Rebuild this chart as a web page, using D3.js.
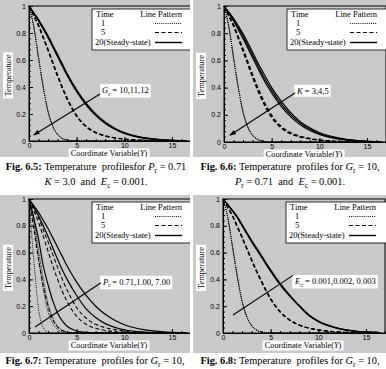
<!DOCTYPE html>
<html>
<head>
<meta charset="utf-8">
<title>Temperature profiles</title>
<script src="https://d3js.org/d3.v7.min.js"></script>
<style>
  body { margin: 0; background: #fff; }
  text { white-space: pre; }
</style>
</head>
<body>
<script>
// shared abscissa (Coordinate Variable Y)
var xGrid = [0, 0.5, 1, 1.5, 2, 2.5, 3, 3.5, 4, 5, 6, 7, 8, 9, 10, 12, 14, 16.5];

var xTicks = [0, 5, 10, 15];
var xTickLabels = ["0", "5", "10", "15"];
var yTicks = [0, 0.2, 0.4, 0.6, 0.8, 1];
var yTickLabels = ["0", "0.2", "0.4", "0.6", "0.8", "1"];
var timeLabels = ["1", "5", "20(Steady-state)"];

// Fig 6.5 : Gr = 10, 11, 12
var gr10_t1 = [1, 0.85, 0.62, 0.40, 0.22, 0.11, 0.05, 0.02, 0.007, 0.001, 0, 0, 0, 0, 0, 0, 0, 0];
var gr11_t1 = [1, 0.848, 0.617, 0.397, 0.218, 0.108, 0.049, 0.019, 0.007, 0.001, 0, 0, 0, 0, 0, 0, 0, 0];
var gr12_t1 = [1, 0.846, 0.614, 0.394, 0.216, 0.107, 0.048, 0.019, 0.006, 0.001, 0, 0, 0, 0, 0, 0, 0, 0];
var gr10_t5 = [1, 0.93, 0.86, 0.77, 0.68, 0.585, 0.49, 0.40, 0.32, 0.19, 0.11, 0.065, 0.04, 0.025, 0.015, 0.005, 0.001, 0];
var gr11_t5 = [1, 0.928, 0.856, 0.765, 0.674, 0.578, 0.483, 0.394, 0.314, 0.186, 0.107, 0.062, 0.038, 0.023, 0.014, 0.004, 0.001, 0];
var gr12_t5 = [1, 0.926, 0.852, 0.76, 0.668, 0.572, 0.477, 0.388, 0.308, 0.182, 0.104, 0.06, 0.036, 0.022, 0.013, 0.004, 0.001, 0];
var gr10_t20 = [1, 0.95, 0.90, 0.84, 0.78, 0.71, 0.64, 0.57, 0.50, 0.38, 0.28, 0.20, 0.14, 0.095, 0.062, 0.025, 0.009, 0.002];
var gr11_t20 = [1, 0.948, 0.895, 0.834, 0.772, 0.702, 0.632, 0.562, 0.492, 0.372, 0.273, 0.194, 0.135, 0.091, 0.059, 0.023, 0.008, 0.002];
var gr12_t20 = [1, 0.946, 0.89, 0.828, 0.765, 0.695, 0.624, 0.554, 0.485, 0.365, 0.266, 0.188, 0.130, 0.087, 0.056, 0.021, 0.007, 0.002];

// Fig 6.6 : K = 3, 4, 5
var k3_t1 = [1, 0.852, 0.624, 0.404, 0.224, 0.113, 0.052, 0.021, 0.008, 0.001, 0, 0, 0, 0, 0, 0, 0, 0];
var k4_t1 = [1, 0.85, 0.62, 0.40, 0.22, 0.11, 0.05, 0.02, 0.007, 0.001, 0, 0, 0, 0, 0, 0, 0, 0];
var k5_t1 = [1, 0.848, 0.616, 0.396, 0.217, 0.108, 0.048, 0.019, 0.006, 0.001, 0, 0, 0, 0, 0, 0, 0, 0];
var k3_t5 = [1, 0.932, 0.864, 0.776, 0.688, 0.594, 0.5, 0.41, 0.33, 0.198, 0.116, 0.069, 0.043, 0.027, 0.016, 0.005, 0.001, 0];
var k4_t5 = [1, 0.928, 0.856, 0.766, 0.675, 0.58, 0.485, 0.395, 0.316, 0.187, 0.108, 0.063, 0.039, 0.024, 0.014, 0.004, 0.001, 0];
var k5_t5 = [1, 0.925, 0.85, 0.757, 0.664, 0.568, 0.473, 0.384, 0.305, 0.179, 0.102, 0.059, 0.036, 0.022, 0.013, 0.004, 0.001, 0];
var k3_t20 = [1, 0.955, 0.91, 0.855, 0.795, 0.73, 0.66, 0.59, 0.525, 0.40, 0.30, 0.215, 0.15, 0.105, 0.07, 0.03, 0.011, 0.003];
var k4_t20 = [1, 0.95, 0.90, 0.84, 0.78, 0.71, 0.64, 0.57, 0.50, 0.38, 0.28, 0.20, 0.14, 0.095, 0.062, 0.025, 0.009, 0.002];
var k5_t20 = [1, 0.945, 0.89, 0.825, 0.76, 0.69, 0.62, 0.55, 0.48, 0.36, 0.262, 0.185, 0.127, 0.085, 0.055, 0.021, 0.007, 0.002];

// Fig 6.7 : Pr = 0.71, 1.00, 7.00
var pr071_t1 = [1, 0.85, 0.62, 0.40, 0.22, 0.11, 0.05, 0.02, 0.007, 0.001, 0, 0, 0, 0, 0, 0, 0, 0];
var pr1_t1 = [1, 0.82, 0.56, 0.33, 0.16, 0.07, 0.027, 0.009, 0.003, 0, 0, 0, 0, 0, 0, 0, 0, 0];
var pr7_t1 = [1, 0.55, 0.18, 0.04, 0.005, 0, 0, 0, 0, 0, 0, 0, 0, 0, 0, 0, 0, 0];
var pr071_t5 = [1, 0.93, 0.86, 0.77, 0.68, 0.585, 0.49, 0.40, 0.32, 0.19, 0.11, 0.065, 0.04, 0.025, 0.015, 0.005, 0.001, 0];
var pr1_t5 = [1, 0.915, 0.825, 0.72, 0.61, 0.5, 0.4, 0.31, 0.235, 0.125, 0.065, 0.035, 0.019, 0.01, 0.005, 0.001, 0, 0];
var pr7_t5 = [1, 0.78, 0.55, 0.35, 0.2, 0.1, 0.045, 0.018, 0.006, 0.001, 0, 0, 0, 0, 0, 0, 0, 0];
var pr071_t20 = [1, 0.95, 0.90, 0.84, 0.78, 0.71, 0.64, 0.57, 0.50, 0.38, 0.28, 0.20, 0.14, 0.095, 0.062, 0.025, 0.009, 0.002];
var pr1_t20 = [1, 0.94, 0.875, 0.80, 0.72, 0.635, 0.55, 0.47, 0.40, 0.28, 0.18, 0.115, 0.07, 0.042, 0.024, 0.007, 0.002, 0];
var pr7_t20 = [1, 0.86, 0.70, 0.50, 0.36, 0.24, 0.15, 0.09, 0.05, 0.015, 0.004, 0.001, 0, 0, 0, 0, 0, 0];

// Fig 6.8 : Ec = 0.001, 0.002, 0.003
var ec1_t1 = [1, 0.86, 0.64, 0.42, 0.235, 0.12, 0.055, 0.022, 0.008, 0.001, 0, 0, 0, 0, 0, 0, 0, 0];
var ec2_t1 = [1, 0.861, 0.642, 0.422, 0.237, 0.121, 0.056, 0.022, 0.008, 0.001, 0, 0, 0, 0, 0, 0, 0, 0];
var ec3_t1 = [1, 0.862, 0.644, 0.424, 0.239, 0.122, 0.057, 0.023, 0.008, 0.001, 0, 0, 0, 0, 0, 0, 0, 0];
var ec1_t5 = [1, 0.935, 0.87, 0.79, 0.71, 0.625, 0.54, 0.46, 0.385, 0.25, 0.155, 0.095, 0.058, 0.036, 0.022, 0.008, 0.002, 0];
var ec2_t5 = [1, 0.937, 0.873, 0.794, 0.714, 0.63, 0.545, 0.465, 0.39, 0.254, 0.158, 0.097, 0.059, 0.037, 0.023, 0.008, 0.002, 0];
var ec3_t5 = [1, 0.939, 0.876, 0.798, 0.718, 0.635, 0.55, 0.47, 0.395, 0.258, 0.161, 0.099, 0.06, 0.038, 0.024, 0.008, 0.002, 0];
var ec1_t20 = [1, 0.955, 0.91, 0.86, 0.80, 0.74, 0.68, 0.625, 0.57, 0.46, 0.36, 0.275, 0.20, 0.13, 0.085, 0.035, 0.012, 0.003];
var ec2_t20 = [1, 0.957, 0.913, 0.864, 0.805, 0.745, 0.686, 0.631, 0.576, 0.466, 0.365, 0.279, 0.203, 0.133, 0.087, 0.036, 0.012, 0.003];
var ec3_t20 = [1, 0.959, 0.916, 0.868, 0.81, 0.75, 0.692, 0.637, 0.582, 0.472, 0.37, 0.283, 0.206, 0.136, 0.089, 0.037, 0.013, 0.003];

var styles = {
  dot:   { width: 0.9, dash: "1,1.1" },
  dash:  { width: 1.1, dash: "4,2.5" },
  solid: { width: 1.2, dash: null }
};
var legendStyles = ["dot", "dash", "solid"];

var panels = [
  { box: [0, 0, 190, 157], x0: 29, top: 6, bottom: 141,
    curves: [[gr10_t1, "dot"], [gr11_t1, "dot"], [gr12_t1, "dot"],
             [gr10_t5, "dash"], [gr11_t5, "dash"], [gr12_t5, "dash"],
             [gr10_t20, "solid"], [gr11_t20, "solid"], [gr12_t20, "solid"]],
    note: { parts: [["G", "i"], ["r", "sub"], [" = 10,11,12"]], x: 7.45, y: 0.355, sy: 0.348, ax: 0.5, ay: 0.045, head: true },
    caption: { cx: 96, y: 170, lines: [
      [["Fig. 6.5:", "b"], [" Temperature  profilesfor "], ["P", "i"], ["r", "sub"], [" = 0.71"]],
      [["K", "i"], [" = 3.0  and  "], ["E", "i"], ["c", "sub"], [" = 0.001."]]] } },
  { box: [193, 0, 386, 157], x0: 224, top: 6, bottom: 142,
    curves: [[k3_t1, "dot"], [k4_t1, "dot"], [k5_t1, "dot"],
             [k3_t5, "dash"], [k4_t5, "dash"], [k5_t5, "dash"],
             [k3_t20, "solid"], [k4_t20, "solid"], [k5_t20, "solid"]],
    note: { parts: [["K", "i"], [" = 3,4,5"]], x: 7.45, y: 0.355, sy: 0.36, ax: 0.63, ay: 0.05, head: true },
    caption: { cx: 290, y: 170, lines: [
      [["Fig. 6.6:", "b"], [" Temperature  profiles for "], ["G", "i"], ["r", "sub"], [" = 10,"]],
      [["P", "i"], ["r", "sub"], [" = 0.71  and  "], ["E", "i"], ["c", "sub"], [" = 0.001."]]] } },
  { box: [0, 195, 190, 353], x0: 29, top: 199, bottom: 333,
    curves: [[pr071_t1, "dot"], [pr1_t1, "dot"], [pr7_t1, "dot"],
             [pr071_t5, "dash"], [pr1_t5, "dash"], [pr7_t5, "dash"],
             [pr071_t20, "solid"], [pr1_t20, "solid"], [pr7_t20, "solid"]],
    note: { parts: [["P", "i"], ["r", "sub"], [" = 0.71,1.00, 7.00"]], x: 7.55, y: 0.36, sy: 0.375, ax: 0.63, ay: 0.045, head: false },
    caption: { cx: 95, y: 364, lines: [
      [["Fig. 6.7:", "b"], [" Temperature  profiles for "], ["G", "i"], ["r", "sub"], [" = 10,"]]] } },
  { box: [193, 195, 386, 353], x0: 223, top: 199, bottom: 333,
    curves: [[ec1_t1, "dot"], [ec2_t1, "dot"], [ec3_t1, "dot"],
             [ec1_t5, "dash"], [ec2_t5, "dash"], [ec3_t5, "dash"],
             [ec1_t20, "solid"], [ec2_t20, "solid"], [ec3_t20, "solid"]],
    note: { parts: [["E", "i"], ["c", "sub"], [" = 0.001,0.002, 0.003"]], x: 7.35, y: 0.366, sy: 0.43, ax: 1.05, ay: 0.134, head: false },
    caption: { cx: 290, y: 364, lines: [
      [["Fig. 6.8:", "b"], [" Temperature  profiles for "], ["G", "i"], ["r", "sub"], [" = 10,"]]] } }
];

var plotWidth = 162;
var captionSize = 10.4;
var serif = "'Liberation Serif', 'Times New Roman', serif";
var sans = "'Liberation Sans', Arial, sans-serif";

var svg = d3.select("body").append("svg")
    .attr("width", 386)
    .attr("height", 369);

var defs = svg.append("defs");
defs.append("marker")
    .attr("id", "head")
    .attr("viewBox", "0 0 10 10")
    .attr("refX", 9).attr("refY", 5)
    .attr("markerWidth", 6).attr("markerHeight", 6)
    .attr("orient", "auto-start-reverse")
  .append("path")
    .attr("d", "M0,1.5 L10,5 L0,8.5 Z")
    .attr("fill", "#000");

// writes italic / subscript / bold runs into a text element
function richText(sel, parts, size) {
  var shift = 0;
  parts.forEach(function(p) {
    var t = sel.append("tspan").text(p[0]);
    var want = p[1] === "sub" ? size * 0.3 : 0;
    if (want !== shift) { t.attr("dy", want - shift); shift = want; }
    if (p[1] === "i") t.attr("font-style", "italic");
    if (p[1] === "b") t.attr("font-weight", "bold");
    if (p[1] === "sub") t.attr("font-size", size * 0.72);
  });
}

// white box behind a text element
function backBox(g, txt, padX, padY, transform) {
  var bb = txt.node().getBBox();
  var r = g.append("rect")
      .attr("x", bb.x - padX).attr("y", bb.y - padY)
      .attr("width", bb.width + 2 * padX).attr("height", bb.height + 2 * padY)
      .attr("fill", "#fff");
  if (transform) r.attr("transform", transform);
  txt.raise();
}

panels.forEach(function(p, pi) {
  var b = p.box;
  var x = d3.scaleLinear().domain([0, 17]).range([p.x0, p.x0 + plotWidth]);
  var y = d3.scaleLinear().domain([0, 1]).range([p.bottom, p.top]);

  defs.append("clipPath").attr("id", "clip" + pi)
    .append("rect").attr("x", b[0]).attr("y", b[1])
    .attr("width", b[2] - b[0]).attr("height", b[3] - b[1]);

  var g = svg.append("g").attr("clip-path", "url(#clip" + pi + ")");

  g.append("rect")
      .attr("x", b[0]).attr("y", b[1])
      .attr("width", b[2] - b[0]).attr("height", b[3] - b[1])
      .attr("fill", "#c9c9c9");

  // curves
  var line = d3.line()
      .x(function(d, i) { return x(xGrid[i]); })
      .y(function(d) { return y(d); })
      .curve(d3.curveMonotoneX);

  g.selectAll("path.curve")
    .data(p.curves)
    .enter().append("path")
      .attr("class", "curve")
      .attr("d", function(d) { return line(d[0]); })
      .attr("fill", "none")
      .attr("stroke", "#000")
      .attr("stroke-width", function(d) { return styles[d[1]].width; })
      .attr("stroke-dasharray", function(d) { return styles[d[1]].dash; });

  // frame
  g.append("rect")
      .attr("x", p.x0).attr("y", p.top)
      .attr("width", plotWidth).attr("height", p.bottom - p.top)
      .attr("fill", "none").attr("stroke", "#000").attr("stroke-width", 1);

  // axes with inward ticks
  var xMinor = d3.range(0, 17.01, 1);
  var yMinor = d3.range(0, 1.001, 0.04);
  g.append("g").attr("transform", "translate(0," + p.bottom + ")")
      .call(d3.axisBottom(x).tickValues(xMinor).tickSize(-2).tickSizeOuter(0).tickFormat(""));
  g.append("g").attr("transform", "translate(" + p.x0 + ",0)")
      .call(d3.axisLeft(y).tickValues(yMinor).tickSize(-2).tickSizeOuter(0).tickFormat(""));
  var xa = g.append("g").attr("transform", "translate(0," + p.bottom + ")")
      .call(d3.axisBottom(x).tickValues(xTicks).tickSize(-4).tickSizeOuter(0).tickPadding(2)
        .tickFormat(function(d, i) { return xTickLabels[i]; }));
  var ya = g.append("g").attr("transform", "translate(" + p.x0 + ",0)")
      .call(d3.axisLeft(y).tickValues(yTicks).tickSize(-4).tickSizeOuter(0).tickPadding(3)
        .tickFormat(function(d, i) { return yTickLabels[i]; }));
  g.selectAll(".tick line, .domain").attr("stroke", "#000");
  [xa, ya].forEach(function(a) {
    a.selectAll("text").attr("font-family", sans).attr("font-size", 7).attr("fill", "#000");
  });
  ya.selectAll("text").attr("dy", "0.3em");

  // axis titles in white boxes
  var xt = g.append("text")
      .attr("x", p.x0 + 80).attr("y", p.bottom + 15)
      .attr("text-anchor", "middle")
      .attr("font-family", serif).attr("font-size", 8.3)
      .text("Coordinate Variable(");
  xt.append("tspan").attr("font-style", "italic").text("Y");
  xt.append("tspan").text(")");
  backBox(g, xt, 2, 0.5);

  var cy = (p.top + p.bottom) / 2 + 2;
  var rot = "translate(" + (b[0] + 10.5) + "," + cy + ") rotate(-90)";
  var yt = g.append("text")
      .attr("transform", rot)
      .attr("text-anchor", "middle")
      .attr("font-family", serif).attr("font-size", 8.3)
      .text("Temperature");
  backBox(g, yt, 2, 0.5, rot);

  // legend
  var lg = g.append("g");
  lg.append("rect")
      .attr("x", p.x0 + 63).attr("y", p.top + 3)
      .attr("width", plotWidth - 63 + 2).attr("height", 41)
      .attr("fill", "#fff").attr("stroke", "#000").attr("stroke-width", 0.8);
  lg.append("text").attr("x", p.x0 + 67).attr("y", p.top + 11)
      .attr("font-family", serif).attr("font-size", 8.5).text("Time");
  lg.append("text").attr("x", p.x0 + 153).attr("y", p.top + 11)
      .attr("text-anchor", "end")
      .attr("font-family", serif).attr("font-size", 8.5).text("Line Pattern");
  timeLabels.forEach(function(lab, i) {
    var ly = p.top + [20, 29, 39][i];
    lg.append("text")
        .attr("x", p.x0 + (i < 2 ? 72 : 66)).attr("y", ly)
        .attr("font-family", serif).attr("font-size", 8.5).text(lab);
    var s = styles[legendStyles[i]];
    lg.append("line")
        .attr("x1", p.x0 + 126).attr("x2", p.x0 + 153)
        .attr("y1", ly - 2.5).attr("y2", ly - 2.5)
        .attr("stroke", "#000")
        .attr("stroke-width", i === 2 ? 1.4 : s.width)
        .attr("stroke-dasharray", s.dash);
  });

  // annotation with pointer line
  var n = p.note;
  var nt = g.append("text")
      .attr("x", x(n.x) + 2).attr("y", y(n.y))
      .attr("font-family", serif).attr("font-size", 8.5);
  richText(nt, n.parts, 8.5);
  backBox(g, nt, 2, 1);
  var pl = g.append("line")
      .attr("x1", x(n.x)).attr("y1", y(n.sy))
      .attr("x2", x(n.ax)).attr("y2", y(n.ay))
      .attr("stroke", "#000").attr("stroke-width", 1.1);
  if (n.head) pl.attr("marker-end", "url(#head)");

  // caption
  p.caption.lines.forEach(function(parts, li) {
    var ct = svg.append("text")
        .attr("x", p.caption.cx).attr("y", p.caption.y + li * 14.5)
        .attr("text-anchor", "middle")
        .attr("font-family", serif).attr("font-size", captionSize);
    richText(ct, parts, captionSize);
  });
});
</script>
</body>
</html>
